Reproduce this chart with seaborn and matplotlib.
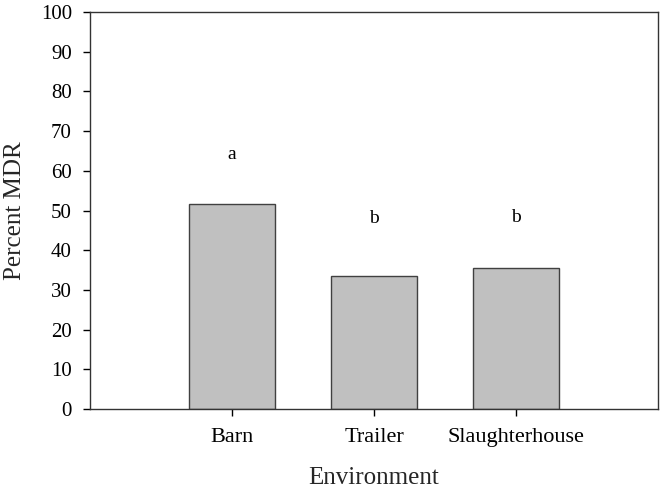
import matplotlib
matplotlib.use("Agg")
import matplotlib.pyplot as plt
import seaborn as sns
import pandas as pd

categories = ["Barn", "Trailer", "Slaughterhouse"]
percent_mdr = [51.6, 33.5, 35.6]
letters = ["a", "b", "b"]
letter_y = [64.0, 47.9, 48.2]

sns.set_theme(style="white")
plt.rcParams['font.family'] = ['Liberation Serif', 'DejaVu Serif']

df = pd.DataFrame({"Environment": categories, "Percent MDR": percent_mdr})

fig = plt.figure(figsize=(6.61, 4.92), dpi=100)
ax = fig.add_axes([90/661, 1-409/492, (658-90)/661, (409-12)/492])
sns.barplot(data=df, x="Environment", y="Percent MDR", order=categories,
            color="#c0c0c0", edgecolor="#404040", linewidth=1.0,
            width=0.6, saturation=1, ax=ax)

for i, (lab, yv) in enumerate(zip(letters, letter_y)):
    ax.text(i, yv, lab, ha="center", va="center", fontsize=14, color="black")

ax.set_xlim(-1, 3)
ax.set_ylim(0, 100)
ax.set_yticks(range(0, 101, 10))
ax.tick_params(axis="both", which="major", direction="out", length=5, width=1,
               colors="black", left=True, bottom=True)
ax.tick_params(axis="y", labelsize=15, pad=8)
ax.tick_params(axis="x", labelsize=16, pad=9)
for s in ax.spines.values():
    s.set_color("#333333")
    s.set_linewidth(1.0)
    s.set_visible(True)
ax.set_xlabel("Environment", fontsize=18)
ax.set_ylabel("Percent MDR", fontsize=18)
ax.xaxis.set_label_coords(0.5, (409-478)/397)
ax.xaxis.label.set_va("center")
ax.yaxis.set_label_coords((15-90)/568, 0.5)
ax.yaxis.label.set_va("center")
ax.grid(False)

fig.savefig("out.png", dpi=100)
